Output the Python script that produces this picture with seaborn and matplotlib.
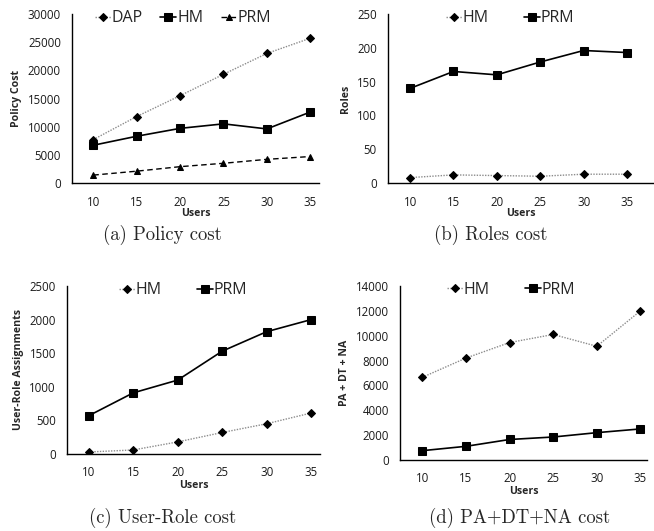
import matplotlib
matplotlib.use("Agg")
import matplotlib.pyplot as plt
import seaborn as sns
import pandas as pd

users = [10, 15, 20, 25, 30, 35]

# (a) Policy cost
a_dap = [7700, 11800, 15500, 19300, 23000, 25700]
a_hm = [6700, 8300, 9700, 10500, 9600, 12600]
a_prm = [1400, 2100, 2900, 3500, 4200, 4700]
# (b) Roles cost
b_hm = [8, 12, 11, 10, 13, 13]
b_prm = [140, 165, 160, 179, 196, 193]
# (c) User-Role cost
c_hm = [30, 60, 180, 320, 450, 610]
c_prm = [570, 910, 1100, 1530, 1820, 2000]
# (d) PA+DT+NA cost
d_hm = [6650, 8200, 9450, 10100, 9150, 12000]
d_prm = [750, 1100, 1650, 1850, 2200, 2500]

a_ticks = [0, 5000, 10000, 15000, 20000, 25000, 30000]
b_ticks = [0, 50, 100, 150, 200, 250]
c_ticks = [0, 500, 1000, 1500, 2000, 2500]
d_ticks = [0, 2000, 4000, 6000, 8000, 10000, 12000, 14000]

sns.set_theme(style="white")
plt.rcParams["font.family"] = ["Open Sans", "DejaVu Sans"]

W, H = 654, 531
fig = plt.figure(figsize=(W / 100, H / 100), dpi=100)


def add_ax(left, top, right, bottom):
    return fig.add_axes([left / W, 1 - bottom / H, (right - left) / W, (bottom - top) / H])


STY = {
    "dot": dict(color="#8c8c8c", linestyle=(0, (1, 1)), linewidth=1.0, marker="D", markersize=3.8,
                markerfacecolor="black", markeredgecolor="black"),
    "sq": dict(color="black", linestyle="-", linewidth=1.2, marker="s", markersize=5.5,
               markerfacecolor="black", markeredgecolor="black"),
    "tri": dict(color="black", linestyle=(0, (4, 2.5)), linewidth=1.0, marker="^", markersize=4.8,
                markerfacecolor="black", markeredgecolor="black"),
}


def panel(ax, series, ticks, ylabel, xlim, colsp, leg_x, caption, cap_xy):
    for name, vals, st in series:
        df = pd.DataFrame({"Users": users, "v": vals})
        sns.lineplot(data=df, x="Users", y="v", ax=ax, label=name, **STY[st])
    ax.set_ylim(ticks[0], ticks[-1])
    ax.set_yticks(ticks)
    ax.set_xlim(*xlim)
    ax.set_xticks(users)
    ax.tick_params(axis="both", labelsize=8.3, length=0, colors="#1a1a1a")
    ax.tick_params(axis="y", pad=8)
    ax.tick_params(axis="x", pad=9)
    for s in ["top", "right"]:
        ax.spines[s].set_visible(False)
    for s in ["left", "bottom"]:
        ax.spines[s].set_color("black")
        ax.spines[s].set_linewidth(1.0)
    ax.set_ylabel(ylabel, fontsize=7.6, fontweight="bold", labelpad=4)
    ax.set_xlabel("Users", fontsize=7.6, fontweight="bold", labelpad=0)
    ax.legend(loc="upper center", bbox_to_anchor=(leg_x, 1.06), ncol=len(series), frameon=False,
              fontsize=11.5, handlelength=1.0, handletextpad=0.05, columnspacing=colsp,
              borderaxespad=0)
    fig.text(cap_xy[0] / W, 1 - cap_xy[1] / H, caption, family="cmr10", fontsize=13.5,
             ha="center", va="center")


ax_a = add_ax(72, 14, 319, 183)
panel(ax_a, [("DAP", a_dap, "dot"), ("HM", a_hm, "sq"), ("PRM", a_prm, "tri")], a_ticks,
      "Policy Cost", (7.55, 36.0), 1.1, 0.45, "(a) Policy cost", (162, 235))

ax_b = add_ax(388, 14, 653, 183)
panel(ax_b, [("HM", b_hm, "dot"), ("PRM", b_prm, "sq")], b_ticks,
      "Roles", (7.45, 38.0), 2.2, 0.46, "(b) Roles cost", (491, 235))

ax_c = add_ax(67, 286, 320, 454)
panel(ax_c, [("HM", c_hm, "dot"), ("PRM", c_prm, "sq")], c_ticks,
      "User-Role Assignments", (7.55, 36.0), 2.2, 0.46, "(c) User-Role cost", (163, 518))

ax_d = add_ax(400, 286, 647, 460)
panel(ax_d, [("HM", d_hm, "dot"), ("PRM", d_prm, "sq")], d_ticks,
      "PA + DT + NA", (7.45, 35.75), 2.2, 0.45, "(d) PA+DT+NA cost", (520, 518))

fig.savefig("out.png", dpi=100)
